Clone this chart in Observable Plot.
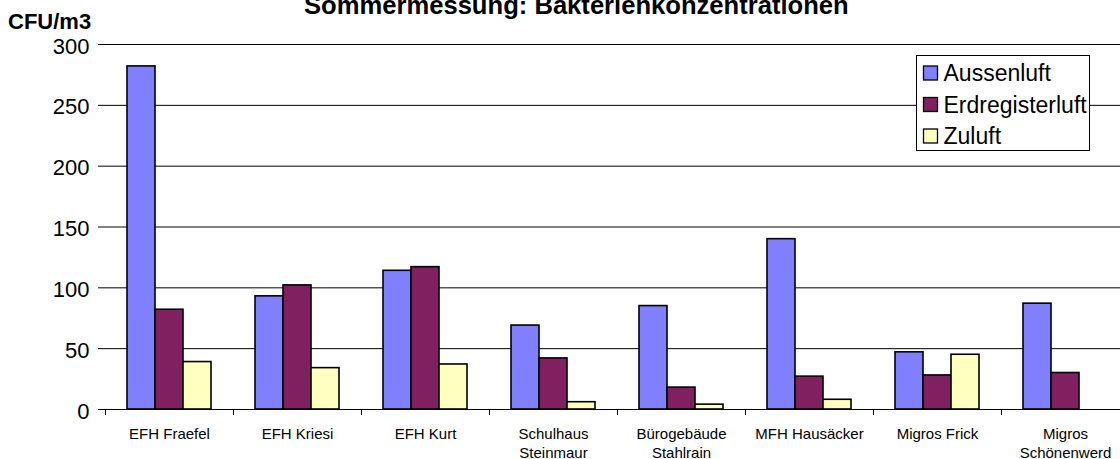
<!DOCTYPE html>
<html>
<head>
<meta charset="utf-8">
<script src="https://cdn.jsdelivr.net/npm/d3@7"></script>
<script src="https://cdn.jsdelivr.net/npm/@observablehq/plot@0.6"></script>
<style>
  html, body { margin: 0; padding: 0; background: white; overflow: hidden; }
  #chart { width: 1120px; height: 459px; overflow: hidden; position: relative; }
</style>
</head>
<body>
<div id="chart"></div>
<script>
const categories = ["EFH Fraefel", "EFH Kriesi", "EFH Kurt", "Schulhaus Steinmaur", "Bürogebäude Stahlrain", "MFH Hausäcker", "Migros Frick", "Migros Schönenwerd"];
const categoryLabels = ["EFH Fraefel", "EFH Kriesi", "EFH Kurt", "Schulhaus\nSteinmaur", "Bürogebäude\nStahlrain", "MFH Hausäcker", "Migros Frick", "Migros\nSchönenwerd"];
const seriesNames = ["Aussenluft", "Erdregisterluft", "Zuluft"];
const aussenluft = [282, 93, 114, 69, 85, 140, 47, 87];
const erdregisterluft = [82, 102, 117, 42, 18, 27, 28, 30];
const zuluft = [39, 34, 37, 6, 4, 8, 45, null];
const seriesColors = ["#8080FF", "#802060", "#FFFFC0"];
const yTicks = [0, 50, 100, 150, 200, 250, 300];
const gridTicks = [50, 100, 150, 200, 250, 300];
const titleText = "Sommermessung: Bakterienkonzentrationen";
const unitText = "CFU/m3";

const seriesValues = [aussenluft, erdregisterluft, zuluft];
const data = [];
categories.forEach((c, i) => {
  seriesNames.forEach((s, j) => {
    const v = seriesValues[j][i];
    if (v != null) data.push({category: c, series: s, value: v});
  });
});
const labelOf = new Map(categories.map((c, i) => [c, categoryLabels[i]]));

const font = "'Liberation Sans', Arial, sans-serif";

// boundary ticks drawn at the left edge of each facet
function boundaryTicks(index, scales, values, dimensions) {
  const g = d3.create("svg:g");
  const y0 = scales.y(0);
  const x0 = dimensions.marginLeft;
  g.append("line")
    .attr("x1", x0 + 0.5).attr("x2", x0 + 0.5)
    .attr("y1", y0).attr("y2", y0 + 6)
    .attr("stroke", "black");
  return g.node();
}

const plot = Plot.plot({
  width: 1130,
  height: 459,
  marginLeft: 104,
  marginRight: 0,
  marginTop: 44,
  marginBottom: 50,
  style: {fontFamily: font, background: "white", maxWidth: "none", overflow: "hidden"},
  fx: {domain: categories, padding: 0, label: null},
  x: {domain: seriesNames, paddingInner: 0, paddingOuter: 0.75, axis: null},
  y: {domain: [0, 300], label: null},
  color: {domain: seriesNames, range: seriesColors},
  marks: [
    Plot.ruleY(gridTicks, {stroke: "black", strokeWidth: 1}),
    Plot.barY(data, {fx: "category", x: "series", y: "value", fill: "series", stroke: "black", strokeWidth: 1.6, inset: 0}),
    Plot.ruleY([0], {stroke: "black", strokeWidth: 1}),
    Plot.axisY({ticks: yTicks, tickSize: 7, line: true, tickFormat: () => "", label: null, stroke: "black"}),
    Plot.axisY({ticks: yTicks, tickSize: 0, tickPadding: 16, dy: 2, fontSize: 22, label: null, fill: "black"}),
    boundaryTicks,
    Plot.axisFx({anchor: "bottom", tickSize: 0, tickPadding: 16.5, fontSize: 15, lineHeight: 1.25, label: null, tickFormat: (d) => labelOf.get(d), fill: "black"})
  ]
});

document.getElementById("chart").appendChild(plot);

// title, unit label and legend drawn into the same svg
const svg = d3.select(plot);
svg.append("text")
  .attr("x", 304).attr("y", 13.5)
  .attr("text-anchor", "start")
  .attr("font-family", font).attr("font-size", 25.6).attr("font-weight", "bold")
  .attr("fill", "black")
  .text(titleText);
svg.append("text")
  .attr("x", 8).attr("y", 29.3)
  .attr("text-anchor", "start")
  .attr("font-family", font).attr("font-size", 22).attr("font-weight", "bold")
  .attr("fill", "black")
  .text(unitText);

const color = plot.scale("color");
const lg = svg.append("g").attr("text-anchor", "start");
lg.append("rect")
  .attr("x", 916.5).attr("y", 55.5).attr("width", 173).attr("height", 95)
  .attr("fill", "white").attr("stroke", "black").attr("stroke-width", 1);
color.domain.forEach((name, i) => {
  const base = 81 + i * 31.5;
  lg.append("rect")
    .attr("x", 923.5).attr("y", base - 15).attr("width", 14).attr("height", 14)
    .attr("fill", color.range[i]).attr("stroke", "black").attr("stroke-width", 1.3);
  lg.append("text")
    .attr("x", 943.5).attr("y", base)
    .attr("text-anchor", "start")
    .attr("font-family", font).attr("font-size", 23)
    .attr("fill", "black")
    .text(name);
});
</script>
</body>
</html>
